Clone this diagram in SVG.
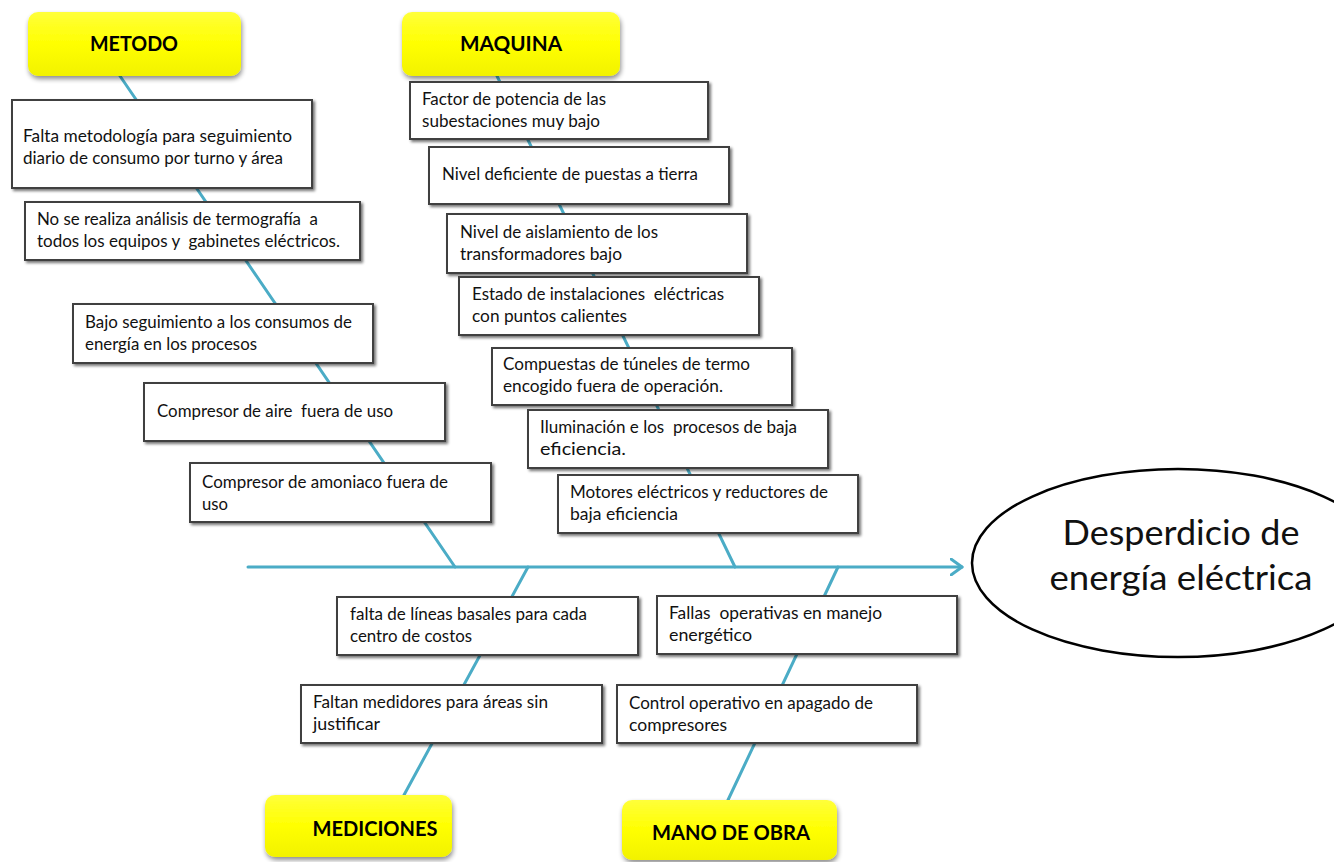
<svg xmlns="http://www.w3.org/2000/svg" width="1334" height="862" viewBox="0 0 1334 862">
  <defs>
    <filter id="boxShadow" x="-5%" y="-10%" width="115%" height="130%">
      <feGaussianBlur in="SourceAlpha" stdDeviation="1.5"/>
      <feOffset dx="2" dy="2" result="blur"/>
      <feComponentTransfer><feFuncA type="linear" slope="0.55"/></feComponentTransfer>
      <feMerge><feMergeNode/><feMergeNode in="SourceGraphic"/></feMerge>
    </filter>
    <filter id="headShadow" x="-10%" y="-15%" width="120%" height="140%">
      <feGaussianBlur in="SourceAlpha" stdDeviation="2.5"/>
      <feOffset dx="1" dy="3" result="blur"/>
      <feComponentTransfer><feFuncA type="linear" slope="0.45"/></feComponentTransfer>
      <feMerge><feMergeNode/><feMergeNode in="SourceGraphic"/></feMerge>
    </filter>
    <linearGradient id="yellowFill" x1="0" y1="0" x2="0" y2="1">
      <stop offset="0" stop-color="#ffff3a"/>
      <stop offset="0.5" stop-color="#ffff00"/>
      <stop offset="1" stop-color="#f2f200"/>
    </linearGradient>
    <marker id="openArrow" viewBox="0 0 14 18" refX="12" refY="9" markerWidth="14" markerHeight="18" markerUnits="userSpaceOnUse" orient="auto">
      <path d="M1,1 L12,9 L1,17" fill="none" stroke="#4bacc6" stroke-width="3" stroke-linecap="round" stroke-linejoin="round"/>
    </marker>
  </defs>
  <style>
    .bone { stroke: #4bacc6; stroke-width: 3; fill: none; stroke-linecap: round; }
    .cause { fill: #ffffff; stroke: #404040; stroke-width: 2; }
    .head { fill: url(#yellowFill); stroke: none; }
    .t { font-family: "Lato", "Liberation Sans", sans-serif; font-size: 17px; fill: #111111; white-space: pre; }
    .h { font-family: "Lato", "Liberation Sans", sans-serif; font-size: 21px; font-weight: bold; fill: #000000; text-anchor: middle; }
    .effect { font-family: "Lato", "Liberation Sans", sans-serif; font-size: 34px; fill: #111111; text-anchor: middle; }
  </style>

  <rect width="1334" height="862" fill="#ffffff"/>

  <!-- fishbone: spine and category bones -->
  <g id="connectors">
    <line class="bone" x1="248" y1="567" x2="962" y2="567" marker-end="url(#openArrow)"/>
    <line class="bone" x1="120" y1="76" x2="455" y2="567"/>
    <line class="bone" x1="497" y1="76" x2="735" y2="567"/>
    <line class="bone" x1="528" y1="567" x2="404" y2="795"/>
    <line class="bone" x1="838" y1="567" x2="728" y2="800"/>
  </g>

  <!-- category headers -->
  <g id="metodo">
    <rect class="head" x="28" y="12" width="213" height="64" rx="10" filter="url(#headShadow)"/>
    <text class="h" x="134" y="51" textLength="88" lengthAdjust="spacingAndGlyphs">METODO</text>
  </g>
  <g id="maquina">
    <rect class="head" x="402" y="12" width="218" height="64" rx="10" filter="url(#headShadow)"/>
    <text class="h" x="511" y="51" textLength="102" lengthAdjust="spacingAndGlyphs">MAQUINA</text>
  </g>
  <g id="mediciones">
    <rect class="head" x="265" y="795" width="187" height="62" rx="10" filter="url(#headShadow)"/>
    <text class="h" x="375" y="836" textLength="125" lengthAdjust="spacingAndGlyphs">MEDICIONES</text>
  </g>
  <g id="mano-de-obra">
    <rect class="head" x="622" y="800" width="215" height="60" rx="10" filter="url(#headShadow)"/>
    <text class="h" x="731" y="840" textLength="158" lengthAdjust="spacingAndGlyphs">MANO DE OBRA</text>
  </g>

  <!-- METODO causes -->
  <g id="metodo-1">
    <rect class="cause" x="12" y="100" width="300" height="88" filter="url(#boxShadow)"/>
    <text class="t" x="23" y="142" textLength="269" lengthAdjust="spacingAndGlyphs">Falta metodología para seguimiento</text>
    <text class="t" x="23" y="164" textLength="260" lengthAdjust="spacingAndGlyphs">diario de consumo por turno y área</text>
  </g>
  <g id="metodo-2">
    <rect class="cause" x="25" y="202" width="335" height="58" filter="url(#boxShadow)"/>
    <text class="t" x="37" y="225" textLength="281" lengthAdjust="spacingAndGlyphs">No se realiza análisis de termografía  a</text>
    <text class="t" x="37" y="247" textLength="303" lengthAdjust="spacingAndGlyphs">todos los equipos y  gabinetes eléctricos.</text>
  </g>
  <g id="metodo-3">
    <rect class="cause" x="73" y="304" width="300" height="59" filter="url(#boxShadow)"/>
    <text class="t" x="85" y="328" textLength="267" lengthAdjust="spacingAndGlyphs">Bajo seguimiento a los consumos de</text>
    <text class="t" x="85" y="350" textLength="172" lengthAdjust="spacingAndGlyphs">energía en los procesos</text>
  </g>
  <g id="metodo-4">
    <rect class="cause" x="144" y="383" width="301" height="58" filter="url(#boxShadow)"/>
    <text class="t" x="157" y="417" textLength="236" lengthAdjust="spacingAndGlyphs">Compresor de aire  fuera de uso</text>
  </g>
  <g id="metodo-5">
    <rect class="cause" x="190" y="463" width="301" height="59" filter="url(#boxShadow)"/>
    <text class="t" x="202" y="488" textLength="246" lengthAdjust="spacingAndGlyphs">Compresor de amoniaco fuera de</text>
    <text class="t" x="202" y="510" textLength="26" lengthAdjust="spacingAndGlyphs">uso</text>
  </g>

  <!-- MAQUINA causes -->
  <g id="maquina-1">
    <rect class="cause" x="410" y="82" width="298" height="57" filter="url(#boxShadow)"/>
    <text class="t" x="422" y="105" textLength="184" lengthAdjust="spacingAndGlyphs">Factor de potencia de las</text>
    <text class="t" x="422" y="127" textLength="178" lengthAdjust="spacingAndGlyphs">subestaciones muy bajo</text>
  </g>
  <g id="maquina-2">
    <rect class="cause" x="429" y="147" width="300" height="57" filter="url(#boxShadow)"/>
    <text class="t" x="442" y="180" textLength="256" lengthAdjust="spacingAndGlyphs">Nivel deficiente de puestas a tierra</text>
  </g>
  <g id="maquina-3">
    <rect class="cause" x="447" y="214" width="300" height="59" filter="url(#boxShadow)"/>
    <text class="t" x="460" y="238" textLength="198" lengthAdjust="spacingAndGlyphs">Nivel de aislamiento de los</text>
    <text class="t" x="460" y="260" textLength="162" lengthAdjust="spacingAndGlyphs">transformadores bajo</text>
  </g>
  <g id="maquina-4">
    <rect class="cause" x="459" y="277" width="300" height="58" filter="url(#boxShadow)"/>
    <text class="t" x="472" y="300" textLength="252" lengthAdjust="spacingAndGlyphs">Estado de instalaciones  eléctricas</text>
    <text class="t" x="472" y="322" textLength="155" lengthAdjust="spacingAndGlyphs">con puntos calientes</text>
  </g>
  <g id="maquina-5">
    <rect class="cause" x="492" y="348" width="300" height="57" filter="url(#boxShadow)"/>
    <text class="t" x="503" y="370" textLength="247" lengthAdjust="spacingAndGlyphs">Compuestas de túneles de termo</text>
    <text class="t" x="503" y="392" textLength="220" lengthAdjust="spacingAndGlyphs">encogido fuera de operación.</text>
  </g>
  <g id="maquina-6">
    <rect class="cause" x="528" y="410" width="300" height="58" filter="url(#boxShadow)"/>
    <text class="t" x="540" y="433" textLength="257" lengthAdjust="spacingAndGlyphs">Iluminación e los  procesos de baja</text>
    <text class="t" x="540" y="455" textLength="86" lengthAdjust="spacingAndGlyphs">eficiencia.</text>
  </g>
  <g id="maquina-7">
    <rect class="cause" x="558" y="475" width="300" height="58" filter="url(#boxShadow)"/>
    <text class="t" x="570" y="498" textLength="258" lengthAdjust="spacingAndGlyphs">Motores eléctricos y reductores de</text>
    <text class="t" x="570" y="520" textLength="108" lengthAdjust="spacingAndGlyphs">baja eficiencia</text>
  </g>

  <!-- MEDICIONES causes -->
  <g id="mediciones-1">
    <rect class="cause" x="337" y="597" width="301" height="58" filter="url(#boxShadow)"/>
    <text class="t" x="350" y="620" textLength="237" lengthAdjust="spacingAndGlyphs">falta de líneas basales para cada</text>
    <text class="t" x="350" y="642" textLength="122" lengthAdjust="spacingAndGlyphs">centro de costos</text>
  </g>
  <g id="mediciones-2">
    <rect class="cause" x="301" y="685" width="301" height="58" filter="url(#boxShadow)"/>
    <text class="t" x="313" y="708" textLength="235" lengthAdjust="spacingAndGlyphs">Faltan medidores para áreas sin</text>
    <text class="t" x="313" y="730" textLength="67" lengthAdjust="spacingAndGlyphs">justificar</text>
  </g>

  <!-- MANO DE OBRA causes -->
  <g id="mano-1">
    <rect class="cause" x="657" y="596" width="300" height="58" filter="url(#boxShadow)"/>
    <text class="t" x="669" y="619" textLength="213" lengthAdjust="spacingAndGlyphs">Fallas  operativas en manejo</text>
    <text class="t" x="669" y="641" textLength="83" lengthAdjust="spacingAndGlyphs">energético</text>
  </g>
  <g id="mano-2">
    <rect class="cause" x="617" y="685" width="300" height="58" filter="url(#boxShadow)"/>
    <text class="t" x="629" y="709" textLength="244" lengthAdjust="spacingAndGlyphs">Control operativo en apagado de</text>
    <text class="t" x="629" y="731" textLength="98" lengthAdjust="spacingAndGlyphs">compresores</text>
  </g>

  <!-- effect -->
  <g id="efecto">
    <ellipse cx="1178" cy="563" rx="206" ry="94" fill="#ffffff" stroke="#000000" stroke-width="2.5"/>
    <text class="effect" x="1181" y="545" textLength="237" lengthAdjust="spacingAndGlyphs">Desperdicio de</text>
    <text class="effect" x="1181" y="590" textLength="263" lengthAdjust="spacingAndGlyphs">energía eléctrica</text>
  </g>
</svg>
